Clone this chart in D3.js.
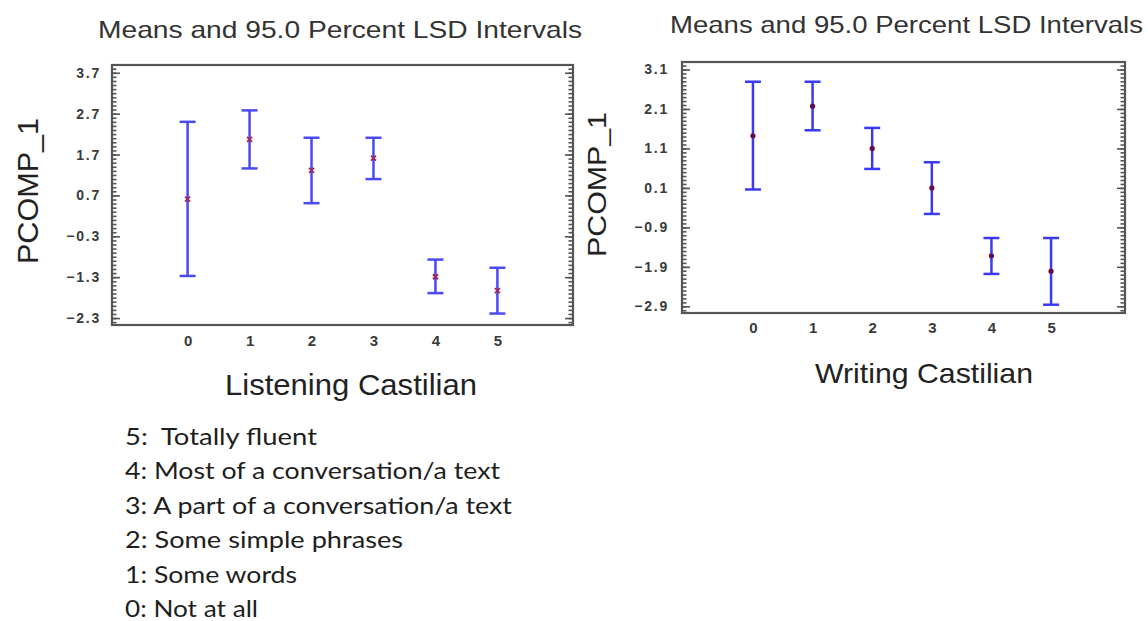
<!DOCTYPE html>
<html>
<head>
<meta charset="utf-8">
<script src="https://cdn.jsdelivr.net/npm/d3@7"></script>
<style>
  html, body { margin: 0; padding: 0; background: #fff; }
  svg { display: block; }
</style>
</head>
<body>
<svg id="chart" width="1148" height="621"></svg>
<script>
// Fluency levels on the x axis
const levels = [0, 1, 2, 3, 4, 5];

// Listening Castilian: group means and 95% LSD interval bounds
const listenMean = [0.61, 2.07, 1.31, 1.61, -1.29, -1.63];
const listenLow  = [-1.27, 1.36, 0.51, 1.10, -1.69, -2.19];
const listenHigh = [2.50, 2.78, 2.11, 2.11, -0.87, -1.07];

// Writing Castilian: group means and 95% LSD interval bounds
const writeMean = [1.42, 2.17, 1.10, 0.10, -1.62, -2.01];
const writeLow  = [0.06, 1.56, 0.58, -0.56, -2.08, -2.86];
const writeHigh = [2.79, 2.79, 1.62, 0.75, -1.17, -1.17];

// Labelled y ticks for each panel
const listenTicks = [3.7, 2.7, 1.7, 0.7, -0.3, -1.3, -2.3];
const writeTicks  = [3.1, 2.1, 1.1, 0.1, -0.9, -1.9, -2.9];

// Key to the fluency levels
const legendLines = [
  "5:  Totally fluent",
  "4: Most of a conversation/a text",
  "3: A part of a conversation/a text",
  "2: Some simple phrases",
  "1: Some words",
  "0: Not at all"
];
const legendWidths = [192, 375, 387, 278, 172, 133];

const titleText = "Means and 95.0 Percent LSD Intervals";
const yLabel = "PCOMP_1";

const svg = d3.select("#chart");

function minorTicks(domain) {
  const out = [];
  const lo = Math.ceil(domain[0] * 10), hi = Math.floor(domain[1] * 10);
  for (let i = lo; i <= hi; i++) out.push(i / 10);
  return out;
}

function panel(opt) {
  const g = svg.append("g");
  const x = d3.scaleLinear().domain(opt.xDomain).range([opt.left, opt.right]);
  const y = d3.scaleLinear().domain(opt.yDomain).range([opt.bottom, opt.top]);

  // plot frame
  g.append("rect")
    .attr("x", opt.left).attr("y", opt.top)
    .attr("width", opt.right - opt.left).attr("height", opt.bottom - opt.top)
    .attr("fill", "#fff").attr("stroke", "#555").attr("stroke-width", 2.2);

  const minor = minorTicks(opt.yDomain);

  // inward minor ticks on both vertical edges
  const leftMinor = g.append("g").attr("transform", `translate(${opt.left},0)`)
    .call(d3.axisLeft(y).tickValues(minor).tickSize(-4.5).tickFormat(""));
  const rightMinor = g.append("g").attr("transform", `translate(${opt.right},0)`)
    .call(d3.axisRight(y).tickValues(minor).tickSize(-4.5).tickFormat(""));
  const rightMajor = g.append("g").attr("transform", `translate(${opt.right},0)`)
    .call(d3.axisRight(y).tickValues(opt.ticks).tickSize(-8).tickFormat(""));
  const leftMajor = g.append("g").attr("transform", `translate(${opt.left},0)`)
    .call(d3.axisLeft(y).tickValues(opt.ticks).tickSize(-8).tickPadding(opt.tickPad)
      .tickFormat(d3.format(".1f")));
  [leftMinor, rightMinor, rightMajor, leftMajor].forEach(a => {
    a.select(".domain").remove();
    a.selectAll(".tick line").attr("stroke", "#555").attr("stroke-width", 1.6);
  });
  leftMajor.selectAll(".tick text")
    .attr("fill", "#3a3a3a")
    .style("font-family", "'Liberation Sans', Arial, sans-serif")
    .style("font-size", "14px")
    .style("font-weight", "bold")
    .style("letter-spacing", "1.8px");

  // x tick labels (no tick marks)
  const xa = g.append("g").attr("transform", `translate(0,${opt.bottom})`)
    .call(d3.axisBottom(x).tickValues(levels).tickSize(0).tickPadding(opt.xPad)
      .tickFormat(d3.format("d")));
  xa.select(".domain").remove();
  xa.selectAll(".tick text")
    .attr("fill", "#3a3a3a")
    .style("font-family", "'Liberation Sans', Arial, sans-serif")
    .style("font-size", "15px")
    .style("font-weight", "bold");

  // error bars
  const bars = g.append("g").attr("stroke", opt.barColor).attr("stroke-width", 2.5).attr("fill", "none");
  levels.forEach((lv, i) => {
    const cx = x(lv);
    bars.append("line").attr("x1", cx).attr("x2", cx).attr("y1", y(opt.low[i])).attr("y2", y(opt.high[i]));
    bars.append("line").attr("x1", cx - 8).attr("x2", cx + 8).attr("y1", y(opt.low[i])).attr("y2", y(opt.low[i]));
    bars.append("line").attr("x1", cx - 8).attr("x2", cx + 8).attr("y1", y(opt.high[i])).attr("y2", y(opt.high[i]));
  });

  // mean markers
  const marks = g.append("g");
  levels.forEach((lv, i) => {
    const cx = x(lv), cy = y(opt.mean[i]);
    if (opt.cross) {
      marks.append("path")
        .attr("d", `M${cx - 2.5},${cy - 2.5}L${cx + 2.5},${cy + 2.5}M${cx - 2.5},${cy + 2.5}L${cx + 2.5},${cy - 2.5}`)
        .attr("stroke", "#a02858").attr("stroke-width", 1.8);
    } else {
      marks.append("circle").attr("cx", cx).attr("cy", cy).attr("r", 2.6).attr("fill", "#6a0a4a");
    }
  });

  // title
  g.append("text")
    .attr("x", opt.titleX).attr("y", opt.titleY)
    .attr("textLength", opt.titleW).attr("lengthAdjust", "spacingAndGlyphs")
    .attr("fill", "#333")
    .style("font-family", "'Liberation Sans', Arial, sans-serif")
    .style("font-size", opt.titleSize + "px")
    .text(titleText);

  // y-axis label
  g.append("text")
    .attr("transform", `translate(${opt.yLabX},${opt.yLabBottom}) rotate(-90)`)
    .attr("textLength", opt.yLabLen).attr("lengthAdjust", "spacingAndGlyphs")
    .attr("fill", "#222")
    .style("font-family", "'Liberation Sans', Arial, sans-serif")
    .style("font-size", opt.yLabSize + "px")
    .text(yLabel);

  // x-axis label
  g.append("text")
    .attr("x", opt.xLabX).attr("y", opt.xLabY)
    .attr("textLength", opt.xLabW).attr("lengthAdjust", "spacingAndGlyphs")
    .attr("fill", "#222")
    .style("font-family", "'Liberation Sans', Arial, sans-serif")
    .style("font-size", opt.xLabSize + "px")
    .text(opt.xLabel);
}

panel({
  left: 112, right: 573, top: 65, bottom: 325,
  xDomain: [-1.22, 6.22], yDomain: [-2.47, 3.89],
  ticks: listenTicks, tickPad: 11, xPad: 10,
  mean: listenMean, low: listenLow, high: listenHigh,
  barColor: "#4a4af5", cross: true,
  titleX: 98, titleY: 38, titleW: 484, titleSize: 24,
  yLabX: 38, yLabBottom: 264, yLabLen: 146, yLabSize: 29,
  xLabX: 225, xLabY: 395, xLabW: 252, xLabSize: 30,
  xLabel: "Listening Castilian"
});

panel({
  left: 682, right: 1125, top: 62, bottom: 313,
  xDomain: [-1.19, 6.24], yDomain: [-3.07, 3.29],
  ticks: writeTicks, tickPad: 13, xPad: 9,
  mean: writeMean, low: writeLow, high: writeHigh,
  barColor: "#3a3af5", cross: false,
  titleX: 670, titleY: 33, titleW: 473, titleSize: 24,
  yLabX: 606, yLabBottom: 257, yLabLen: 145, yLabSize: 25,
  xLabX: 815, xLabY: 383, xLabW: 218, xLabSize: 28,
  xLabel: "Writing Castilian"
});

// fluency key
svg.append("g")
  .selectAll("text")
  .data(legendLines)
  .join("text")
  .attr("x", 125)
  .attr("y", (d, i) => 445 + i * 34.4)
  .attr("textLength", (d, i) => legendWidths[i])
  .attr("lengthAdjust", "spacingAndGlyphs")
  .attr("fill", "#1e1e1e")
  .style("white-space", "pre")
  .style("font-family", "Lato, 'Open Sans', sans-serif")
  .style("font-size", "24px")
  .text(d => d);
</script>
</body>
</html>
